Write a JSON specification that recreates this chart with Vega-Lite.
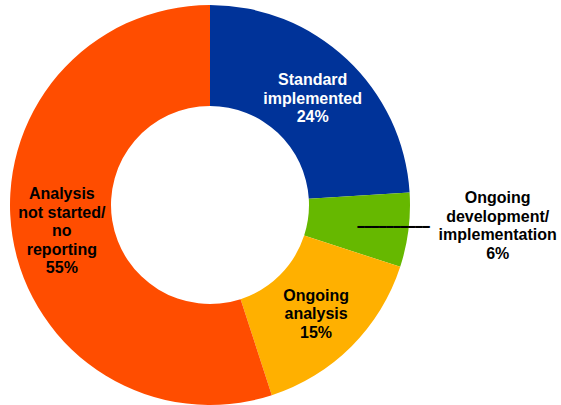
{
  "$schema": "https://vega.github.io/schema/vega-lite/v6.json",
  "width": 420,
  "height": 410,
  "autosize": {"type": "none"},
  "padding": {"left": 0, "top": 0, "right": 141, "bottom": 0},
  "background": "white",
  "config": {"view": {"stroke": null}},
  "data": {
    "values": [
      {"rank": 1, "category": "Standard implemented", "value": 24, "label": "Standard\nimplemented\n24%", "outer": ""},
      {"rank": 2, "category": "Ongoing development/implementation", "value": 6, "label": "", "outer": "Ongoing\ndevelopment/\nimplementation\n6%"},
      {"rank": 3, "category": "Ongoing analysis", "value": 15, "label": "Ongoing\nanalysis\n15%", "outer": ""},
      {"rank": 4, "category": "Analysis not started/no reporting", "value": 55, "label": "Analysis\nnot started/\nno\nreporting\n55%", "outer": ""}
    ]
  },
  "layer": [
    {
      "mark": {"type": "arc", "outerRadius": 200, "innerRadius": 99},
      "encoding": {
        "theta": {"field": "value", "type": "quantitative", "stack": true},
        "order": {"field": "rank", "type": "quantitative"},
        "color": {
          "field": "category",
          "type": "nominal",
          "scale": {
            "domain": ["Standard implemented", "Ongoing development/implementation", "Ongoing analysis", "Analysis not started/no reporting"],
            "range": ["#003399", "#66B800", "#FFB000", "#FF4D00"]
          },
          "legend": null
        }
      }
    },
    {
      "mark": {"type": "text", "radius": 185, "dy": -1, "font": "DejaVu Sans Mono", "fontSize": 12, "align": "center", "baseline": "middle"},
      "encoding": {
        "theta": {"field": "value", "type": "quantitative", "stack": true},
        "order": {"field": "rank", "type": "quantitative"},
        "detail": {"field": "category", "type": "nominal"},
        "text": {"condition": {"test": "datum.outer !== ''", "value": "━━━━━━━━━━"}, "value": ""},
        "color": {"value": "black"}
      }
    },
    {
      "mark": {"type": "text", "radius": 150, "dy": -15.5, "font": "Liberation Sans", "fontWeight": "bold", "fontSize": 16, "lineHeight": 18.5, "lineBreak": "\n", "align": "center", "baseline": "middle"},
      "encoding": {
        "theta": {"field": "value", "type": "quantitative", "stack": true},
        "order": {"field": "rank", "type": "quantitative"},
        "detail": {"field": "category", "type": "nominal"},
        "text": {"condition": {"test": "datum.rank === 1 || datum.rank === 3", "field": "label"}, "value": ""},
        "color": {"condition": {"test": "datum.category === 'Standard implemented'", "value": "white"}, "value": "black"}
      }
    },
    {
      "mark": {"type": "text", "radius": 150, "dy": -34, "font": "Liberation Sans", "fontWeight": "bold", "fontSize": 16, "lineHeight": 18.5, "lineBreak": "\n", "align": "center", "baseline": "middle", "color": "black"},
      "encoding": {
        "theta": {"field": "value", "type": "quantitative", "stack": true},
        "order": {"field": "rank", "type": "quantitative"},
        "detail": {"field": "category", "type": "nominal"},
        "text": {"condition": {"test": "datum.rank === 4", "field": "label"}, "value": ""}
      }
    },
    {
      "mark": {"type": "text", "radius": 290, "dy": -43, "font": "Liberation Sans", "fontWeight": "bold", "fontSize": 16, "lineHeight": 18.5, "lineBreak": "\n", "align": "center", "baseline": "middle", "color": "black"},
      "encoding": {
        "theta": {"field": "value", "type": "quantitative", "stack": true},
        "order": {"field": "rank", "type": "quantitative"},
        "detail": {"field": "category", "type": "nominal"},
        "text": {"field": "outer"}
      }
    }
  ]
}
